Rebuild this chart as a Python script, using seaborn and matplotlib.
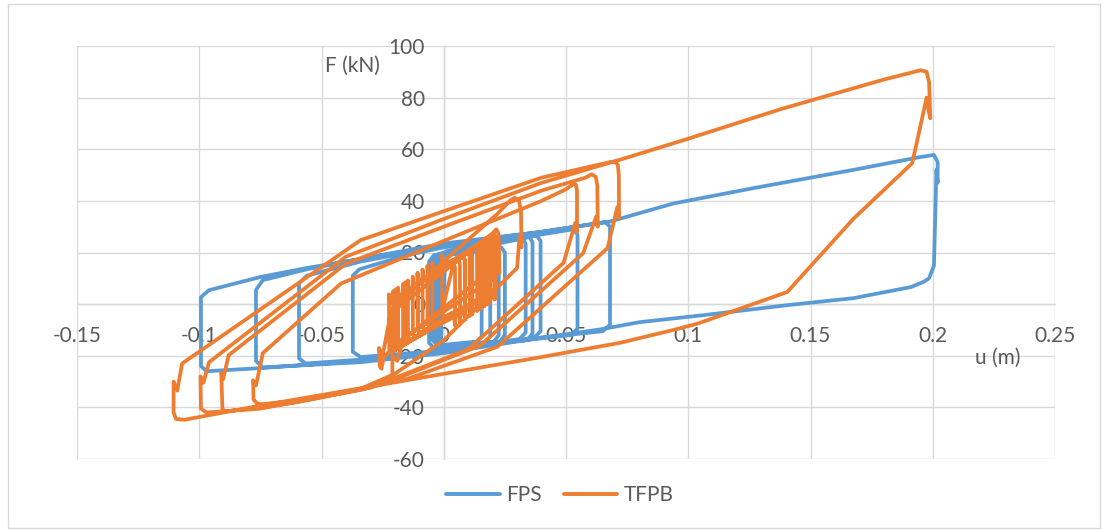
import matplotlib
matplotlib.use("Agg")
import matplotlib.pyplot as plt
from matplotlib.patches import Rectangle
import pandas as pd
import seaborn as sns

# ---- data: force-displacement paths (u in m, F in kN) ----
fps_u = [
    0.000, 0.0005, 0.003, 0.0140, 0.0155, 0.0155, 0.0135, -0.0025, -0.0045, -0.0045,
    -0.0025, 0.0175, 0.0190, 0.0190, 0.0170, -0.0010, -0.0025, -0.0025, -0.0005, 0.0210,
    0.0225, 0.0225, 0.0205, -0.0040, -0.0060, -0.0060, -0.0040, 0.0235, 0.0250, 0.0250,
    0.0230, 0.0010, -0.0010, -0.0010, 0.0010, 0.0320, 0.0335, 0.0335, 0.0310, 0.0000,
    -0.0340, -0.0372, -0.0372, -0.0345, -0.0150, 0.0000, 0.0230, 0.0380, 0.0396, 0.0396,
    0.0370, 0.0000, -0.0340, -0.0565, -0.0592, -0.0592, -0.0560, -0.0340, 0.0000, 0.0230,
    0.0400, 0.0530, 0.0547, 0.0547, 0.0520, 0.0230, 0.0000, -0.0340, -0.0750, -0.0970,
    -0.0993, -0.0993, -0.0960, -0.0750, -0.0560, -0.0340, 0.0000, 0.0400, 0.0680, 0.0940,
    0.1270, 0.1675, 0.1950, 0.2005, 0.2020, 0.2020, 0.2015, 0.2005, 0.1985, 0.1960,
    0.1910, 0.1675, 0.1405, 0.1060, 0.0800, 0.0640, 0.0400, 0.0230, 0.0000, -0.0340,
    -0.0740, -0.0768, -0.0768, -0.0740, -0.0560, -0.0340, 0.0000, 0.0400, 0.0660, 0.0680,
    0.0680, 0.0650, 0.0400, 0.0230, 0.0000, -0.0020, -0.0040, -0.0040, -0.0020, 0.0200,
    0.0350, 0.0363, 0.0363, 0.0340, 0.0100,
]
fps_f = [
    0.0, 17.0, 19.5, 20.5, 18.5, -12.5, -14.5, -16.0, -14.0, 16.0,
    18.5, 21.0, 19.0, -12.5, -14.8, -16.5, -14.5, 17.0, 19.5, 21.5,
    19.5, -12.0, -14.5, -17.0, -15.0, 16.5, 19.0, 22.0, 20.0, -12.0,
    -14.5, -16.5, -14.5, 18.0, 20.5, 25.5, 23.5, -11.0, -13.5, -18.0,
    -20.5, -18.5, 11.0, 13.5, 19.0, 22.0, 24.5, 26.5, 24.5, -10.5,
    -13.0, -18.5, -21.5, -23.0, -21.0, 8.0, 11.0, 16.5, 22.5, 25.0,
    27.0, 29.0, 27.0, -9.5, -12.0, -15.0, -18.5, -22.0, -24.8, -26.0,
    -24.0, 2.7, 5.4, 10.5, 14.0, 17.5, 23.0, 28.0, 32.0, 39.0,
    45.0, 52.0, 57.0, 57.8, 55.0, 47.0, 52.0, 15.0, 10.0, 8.5,
    6.6, 2.3, -0.4, -4.3, -7.0, -9.8, -13.0, -15.5, -19.0, -22.5,
    -24.5, -22.0, 5.5, 9.3, 13.5, 17.5, 23.5, 28.0, 31.8, 30.0,
    -8.0, -10.5, -13.0, -15.0, -17.5, -15.5, -14.0, 17.0, 19.5, 23.0,
    26.0, 24.0, -11.5, -14.0, -16.0,
]

tfpb_u = [
    # small cycles around the origin
    0.0000, 0.0040,
    0.0080, 0.0086, 0.0087, 0.0082, -0.0100, -0.0106, -0.0107, -0.0102,
    0.0140, 0.0146, 0.0147, 0.0142, -0.0150, -0.0156, -0.0157, -0.0152,
    0.0180, 0.0186, 0.0187, 0.0182, -0.0190, -0.0196, -0.0197, -0.0192,
    0.0205, 0.0211, 0.0212, 0.0207, -0.0120, -0.0126, -0.0127, -0.0122,
    0.0110, 0.0116, 0.0117, 0.0112, -0.0217, -0.0223, -0.0224, -0.0219,
    0.0160, 0.0166, 0.0167, 0.0162, -0.0060, -0.0066, -0.0067, -0.0062,
    0.0060, 0.0066, 0.0067, 0.0062, -0.0080, -0.0086, -0.0087, -0.0082,
    0.0100, 0.0106, 0.0107, 0.0102, -0.0140, -0.0146, -0.0147, -0.0142,
    0.0040, 0.0046, 0.0047, 0.0042, -0.0180, -0.0186, -0.0187, -0.0182,
    0.0170, 0.0176, 0.0177, 0.0172, -0.0040, -0.0046, -0.0047, -0.0042,
    0.0130, 0.0136, 0.0137, 0.0132, -0.0200, -0.0206, -0.0207, -0.0202,
    0.0200, 0.0206, 0.0207, 0.0202, -0.0100, -0.0106, -0.0107, -0.0102,
    0.0150, 0.0156, 0.0157, 0.0152, 0.0000, -0.0006, -0.0007, -0.0002,
    0.0080, 0.0086, 0.0087, 0.0082, -0.0160, -0.0166, -0.0167, -0.0162,
    0.0190, 0.0197,
    0.0197, -0.0180, -0.0245, -0.0255, -0.0262, -0.0265, -0.0250, -0.0217, 0.0200, 0.0215,
    0.0225, 0.0228, 0.0220, -0.0150, -0.0200, -0.0206, -0.0206,
    # cycle to 0.03
    0.0040, 0.0220, 0.0270, 0.0290, 0.0308, 0.0316, 0.0318, 0.0310, 0.0300, 0.0000,
    -0.0200, -0.0340, -0.0600, -0.0750,
    # cycle from -0.078 to 0.054
    -0.0765, -0.0778, -0.0780, -0.0768, -0.0740, -0.0420, 0.0000, 0.0400, 0.0500, 0.0530,
    0.0540, 0.0545, 0.0545, 0.0538, 0.0490, 0.0100, -0.0300, -0.0600, -0.0750, -0.0885,
    # cycle from -0.091 to 0.063
    -0.0905, -0.0910, -0.0902, -0.0880, -0.0400, 0.0000, 0.0400, 0.0580, 0.0605, 0.0622,
    0.0628, 0.0630, 0.0624, 0.0570, 0.0150, -0.0250, -0.0340, -0.0750, -0.0970,
    # large cycle from -0.099 to 0.198
    -0.0993, -0.0995, -0.0983, -0.0960, -0.0400, 0.0000, 0.0400, 0.0723, 0.0997, 0.1377,
    0.1800, 0.1950, 0.1975, 0.1985, 0.1990, 0.1983, 0.1975, 0.1916, 0.1675, 0.1405,
    0.1040, 0.0940, 0.0720, 0.0400, 0.0000, -0.0340, -0.0750, -0.1060,
    # cycle from -0.11 to 0.0715
    -0.1095, -0.1105, -0.1105, -0.1090, -0.1070, -0.0340, 0.0000, 0.0400, 0.0680, 0.0700,
    0.0712, 0.0716, 0.0717, 0.0710, 0.0670, 0.0220, -0.0150, -0.0200, -0.0210, -0.0210,
    -0.0190, -0.0150,
]
tfpb_f = [
    0.0, 15.8,
    18.6, 17.1, -5.9, -2.4, -11.4, -9.9, 12.0, 8.5,
    22.8, 21.3, -2.0, 1.5, -14.6, -13.1, 8.5, 5.0,
    25.6, 24.1, 0.5, 4.0, -17.2, -15.7, 5.7, 2.2,
    27.4, 25.9, 2.1, 5.6, -12.7, -11.2, 10.6, 7.1,
    20.7, 19.2, -4.0, -0.5, -18.9, -17.4, 3.8, 0.3,
    24.2, 22.7, -0.8, 2.7, -8.8, -7.3, 14.8, 11.3,
    17.2, 15.7, -7.2, -3.7, -10.1, -8.6, 13.4, 9.9,
    20.0, 18.5, -4.6, -1.1, -14.0, -12.5, 9.2, 5.7,
    15.8, 14.3, -8.4, -4.9, -16.5, -15.0, 6.4, 2.9,
    24.9, 23.4, -0.1, 3.4, -7.6, -6.1, 16.2, 12.7,
    22.1, 20.6, -2.7, 0.8, -17.8, -16.3, 5.0, 1.5,
    27.0, 25.5, 1.8, 5.3, -11.4, -9.9, 12.0, 8.5,
    23.5, 22.0, -1.4, 2.1, -5.0, -3.5, 19.0, 15.5,
    18.6, 17.1, -5.9, -2.4, -15.2, -13.7, 7.8, 4.3,
    26.3, 24.0,
    9.5, -14.3, -20.5, -25.0, -24.0, -17.0, -20.0, -3.5, 27.5, 29.0,
    27.0, 12.0, 15.0, -12.5, -18.0, -16.0, -1.5,
    20.0, 35.0, 40.0, 41.2, 40.0, 36.0, 22.0, 26.0, 14.0, -14.0,
    -27.0, -32.8, -37.5, -38.8,
    -38.3, -37.0, -29.5, -31.5, -19.0, 8.0, 24.5, 40.0, 44.5, 46.5,
    46.3, 44.0, 28.0, 31.5, 16.0, -17.5, -32.3, -38.0, -40.0, -41.5,
    -41.0, -26.6, -29.0, -19.8, 15.7, 30.0, 44.0, 49.0, 50.3, 49.3,
    46.0, 30.0, 34.0, 19.7, -16.0, -31.0, -33.2, -40.5, -42.0,
    -40.5, -28.0, -30.5, -22.5, 18.4, 33.0, 47.0, 56.0, 64.0, 75.5,
    87.0, 90.6, 90.0, 86.0, 72.0, 75.0, 80.0, 54.6, 33.0, 4.7,
    -7.5, -10.0, -15.0, -20.5, -27.0, -32.6, -39.3, -44.8,
    -44.5, -42.0, -30.0, -33.5, -23.0, 24.8, 36.0, 49.0, 55.0, 55.2,
    54.0, 50.0, 33.3, 37.6, 21.7, -16.5, -29.0, -30.0, -28.5, -20.0,
    -22.0, -8.0,
]

series_names = ["FPS", "TFPB"]
series_colors = ["#5B9BD5", "#ED7D31"]

x_ticks = [-0.15, -0.1, -0.05, 0, 0.05, 0.1, 0.15, 0.2, 0.25]
x_tick_labels = ["-0.15", "-0.1", "-0.05", "0", "0.05", "0.1", "0.15", "0.2", "0.25"]
y_ticks = [-60, -40, -20, 0, 20, 40, 60, 80, 100]
y_tick_labels = ["-60", "-40", "-20", "0", "20", "40", "60", "80", "100"]

# ---- long-form table for seaborn ----
frames = []
for name, us, fs in [("FPS", fps_u, fps_f), ("TFPB", tfpb_u, tfpb_f)]:
    frames.append(pd.DataFrame({"u": us, "F": fs, "series": name,
                                "step": range(len(us))}))
df = pd.concat(frames, ignore_index=True)

sns.set_theme(style="white")
plt.rcParams["font.family"] = ["Lato", "DejaVu Sans"]

TEXT = "#595959"
GRID = "#d9d9d9"
FS = 15.0

fig = plt.figure(figsize=(11.02, 5.30), dpi=100)
ax = fig.add_axes([77 / 1102, 1 - 459 / 530, (1055 - 77) / 1102, (459 - 46) / 530])

sns.lineplot(data=df, x="u", y="F", hue="series", hue_order=series_names,
             palette=series_colors, sort=False, estimator=None,
             linewidth=2.7, ax=ax, legend=False)
for line in ax.lines:
    line.set_solid_joinstyle("round")
    line.set_solid_capstyle("round")

ax.set_xlim(-0.15, 0.25)
ax.set_ylim(-60, 100)
ax.set_xticks(x_ticks)
ax.set_xticklabels(x_tick_labels)
ax.set_yticks(y_ticks)
ax.set_yticklabels(y_tick_labels)
ax.grid(True, color=GRID, linewidth=1.0)
ax.set_axisbelow(True)

for side in ["top", "right"]:
    ax.spines[side].set_visible(False)
ax.spines["left"].set_position(("data", 0))
ax.spines["bottom"].set_position(("data", 0))
for side in ["left", "bottom"]:
    ax.spines[side].set_color(GRID)
    ax.spines[side].set_linewidth(1.0)
    ax.spines[side].set_zorder(0.5)

ax.tick_params(axis="x", length=0, pad=16.0, labelsize=FS, labelcolor=TEXT)
ax.tick_params(axis="y", length=0, pad=13.5, labelsize=FS, labelcolor=TEXT)
ax.set_xlabel("")
ax.set_ylabel("")

fig.text(352 / 1102, 1 - 66 / 530, "F (kN)", fontsize=FS, color=TEXT,
         ha="center", va="center")
fig.text(998 / 1102, 1 - 358 / 530, "u (m)", fontsize=FS, color=TEXT,
         ha="center", va="center")

handles = [plt.Line2D([], [], color=c, linewidth=2.8, solid_capstyle="round")
           for c in series_colors]
fig.legend(handles, series_names, loc="center", ncol=2, frameon=False,
           bbox_to_anchor=(560 / 1102, 1 - 495 / 530), fontsize=FS,
           labelcolor=TEXT, handlelength=2.55, handletextpad=0.3,
           columnspacing=1.1)

fig.add_artist(Rectangle((8 / 1102, 2 / 530), 1092 / 1102, 524 / 530,
                         transform=fig.transFigure, fill=False,
                         edgecolor=GRID, linewidth=1.0))

fig.savefig("out.png", dpi=100, facecolor="white")
